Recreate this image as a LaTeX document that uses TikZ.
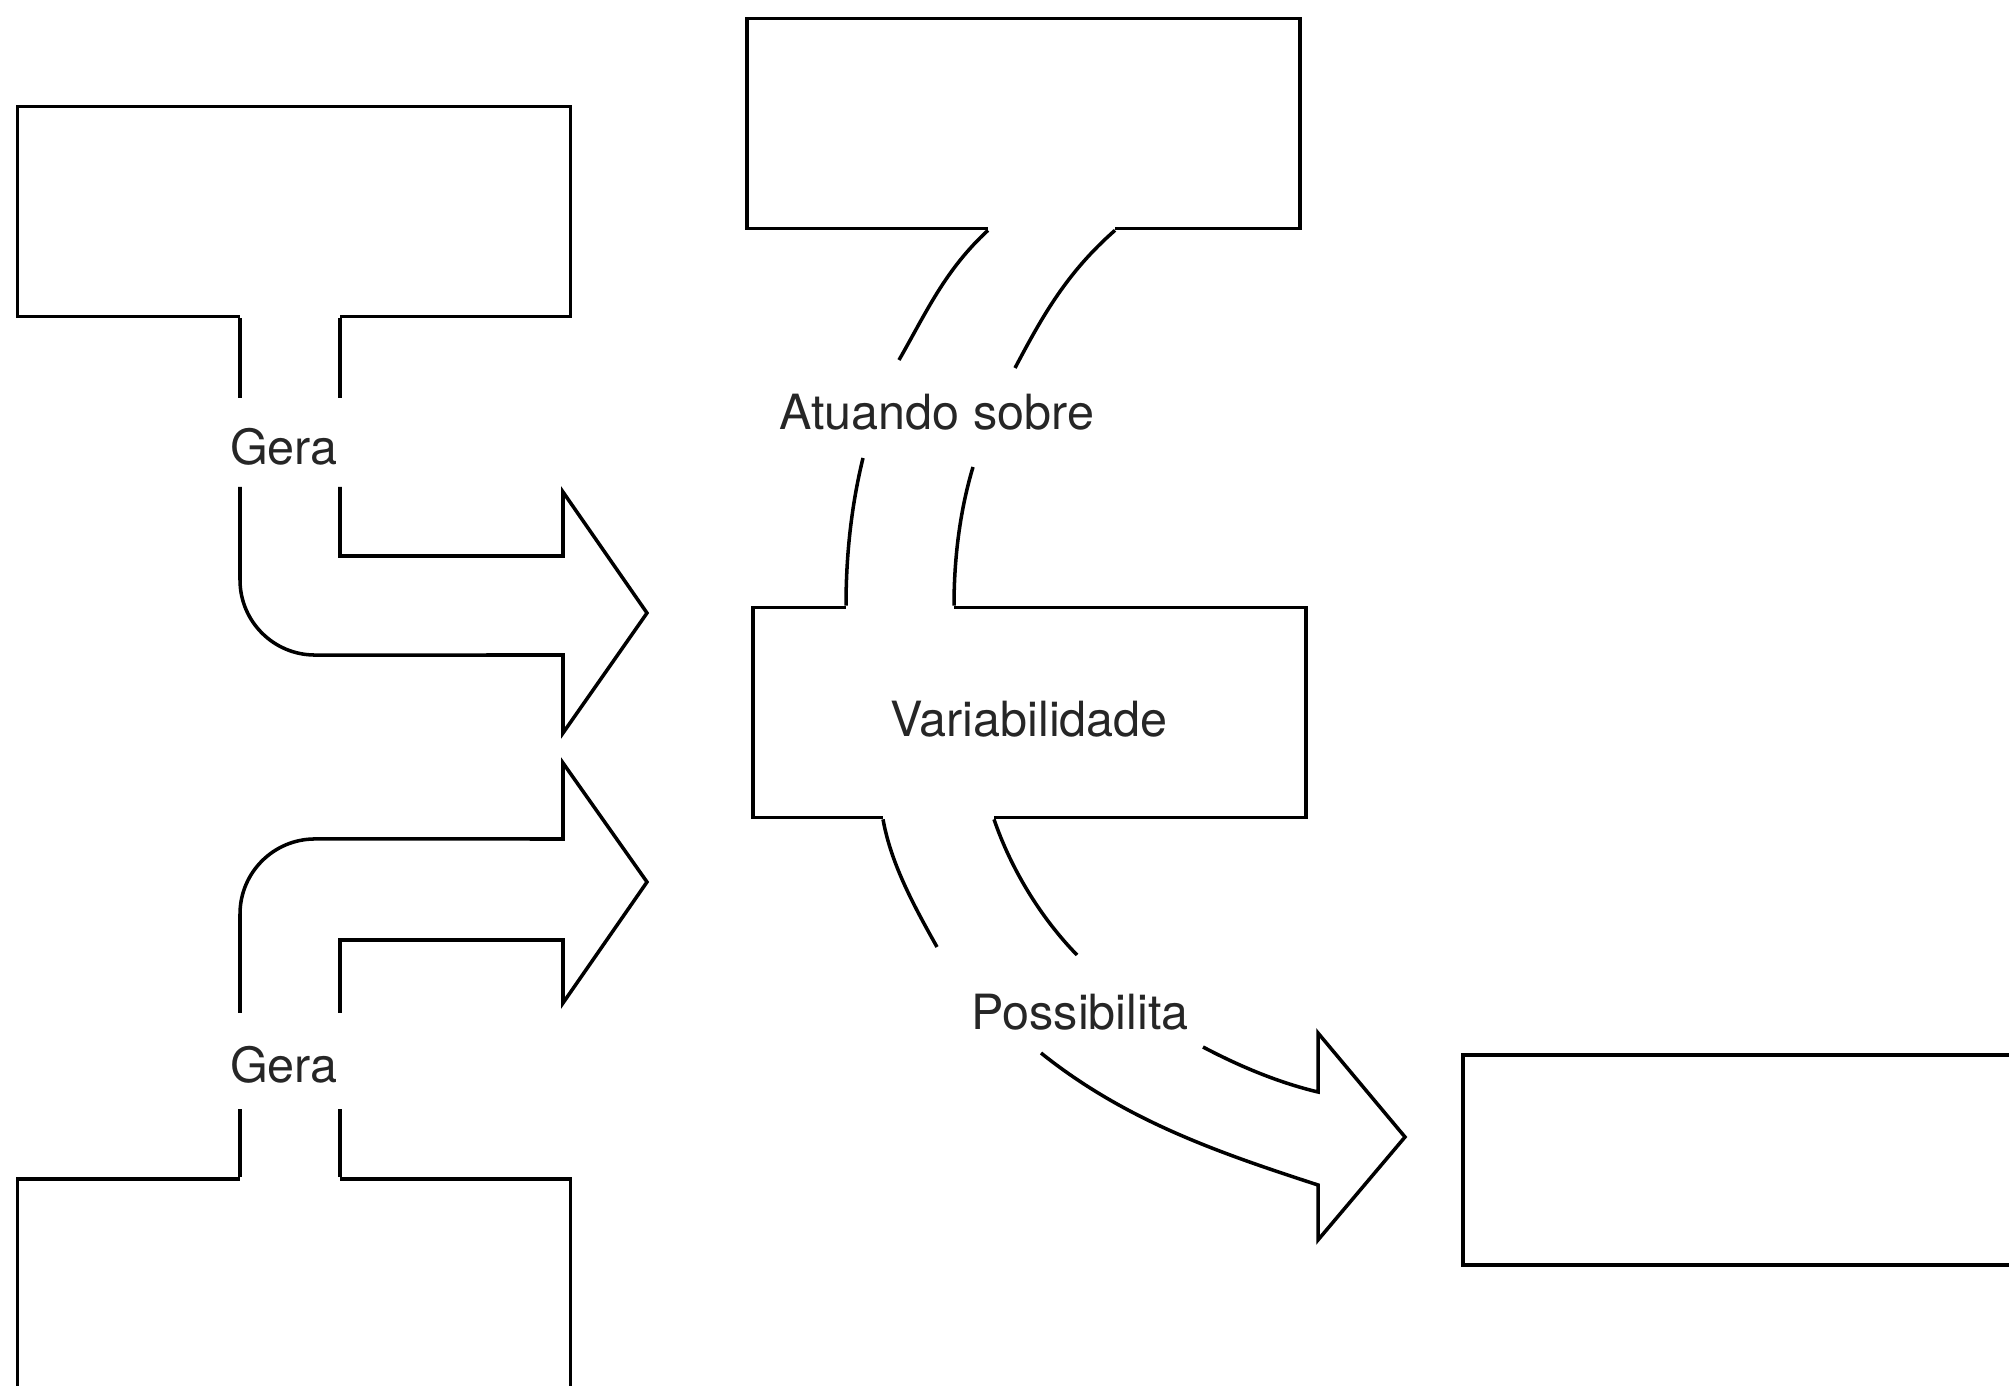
\documentclass[tikz,border=0pt]{standalone}
\usepackage{fontspec}
\setmainfont{TeX Gyre Heros}
\usepackage{tikz}

\begin{document}
\begin{tikzpicture}[
  x=0.01cm, y=-0.01cm,
  line width=1pt,
  box/.style={draw, minimum width=5.53cm, minimum height=2.1cm, inner sep=0pt},
  lbl/.style={font=\fontsize{13.8}{16}\selectfont, text=black!85, inner sep=0pt},
  mouth/.style={draw=white, line width=2pt},
  band/.style={line join=miter}
]
  \useasboundingbox (0,0) rectangle (2009,1386);
  \clip (0,0) rectangle (2009,1386);

  \node[box] (gen1) at (294,211.5) {};
  \node[box] (gen2) at (294,1284) {};
  \node[box] (top) at (1023.5,123.5) {};
  \node[box] (var) at (1029.5,712.5) {};
  \node[box] (res) at (1739.5,1160) {};
  \node[lbl] (varlbl) at (1029,719) {Variabilidade};

  \draw[mouth] (240,0 |- gen1.south) -- (340,0 |- gen1.south);
  \draw (240,0 |- gen1.south) -- (240,398) (340,0 |- gen1.south) -- (340,398);
  \node[lbl] (gera1) at (284,447) {Gera};
  \draw[band] (240,487) -- (240,580) arc[start angle=180, end angle=270, radius=0.75cm]
    -- (563,655) -- (563,733) -- (647,613) -- (563,492) -- (563,556) -- (340,556) -- (340,487);

  \draw[mouth] (240,0 |- gen2.north) -- (340,0 |- gen2.north);
  \draw (240,0 |- gen2.north) -- (240,1109) (340,0 |- gen2.north) -- (340,1109);
  \node[lbl] (gera2) at (284,1065) {Gera};
  \draw[band] (240,1013) -- (240,914) arc[start angle=180, end angle=90, radius=0.75cm]
    -- (563,839) -- (563,763) -- (647,882) -- (563,1003) -- (563,940) -- (340,940) -- (340,1013);

  \draw[mouth] (988,0 |- top.south) -- (1115,0 |- top.south);
  \draw[mouth] (846,0 |- var.north) -- (954,0 |- var.north);
  \draw (988,0 |- top.south) .. controls (945,270) and (926.5,312) .. (899,360);
  \draw (1115,0 |- top.south) .. controls (1067,272.5) and (1043,315) .. (1015,368);
  \node[lbl] (atua) at (937,412) {Atuando sobre};
  \draw (863,458) .. controls (851,507) and (846,557) .. (846,0 |- var.north);
  \draw (973,467) .. controls (959.5,512) and (954,560) .. (954,0 |- var.north);

  \draw[mouth] (883,0 |- var.south) -- (994,0 |- var.south);
  \draw (883,0 |- var.south) .. controls (891,864) and (914,906) .. (937,947);
  \draw (994,0 |- var.south) .. controls (1010.6,868) and (1040,917) .. (1077,955);
  \node[lbl] (poss) at (1080,1012) {Possibilita};
  \draw[band] (1041,1053) .. controls (1127,1122) and (1223,1154) .. (1318,1185)
    -- (1318,1240) -- (1405,1137) -- (1318,1033) -- (1318,1092)
    .. controls (1278,1082.5) and (1239,1066) .. (1203,1047);
\end{tikzpicture}
\end{document}
